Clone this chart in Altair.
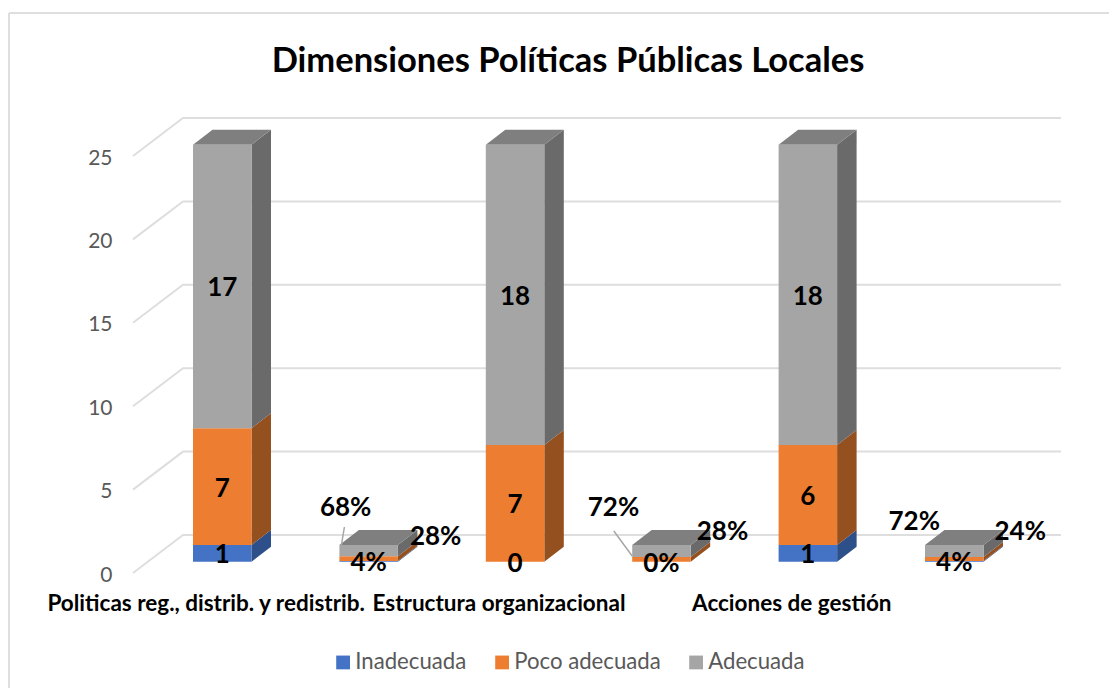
import altair as alt
import pandas as pd

# ---- data ----
TITLE = "Dimensiones Políticas Públicas Locales"
SERIES = ["Inadecuada", "Poco adecuada", "Adecuada"]
COLORS = ["#4472C4", "#ED7D31", "#A5A5A5"]
SIDE_COLORS = ["#2D4F8A", "#95501F", "#6A6A6A"]
TOP_COLOR = "#7F7F7F"
CATEGORIES = ["Politicas reg., distrib. y redistrib.", "Estructura organizacional", "Acciones de gestión"]
COUNTS = [[1, 7, 17], [0, 7, 18], [1, 6, 18]]
PERCENTS = [[4, 28, 68], [0, 28, 72], [4, 24, 72]]
TICKS = [0, 5, 10, 15, 20, 25]

# ---- layout of the oblique projection ----
W, H = 1101, 680
UNIT_PX = 16.68          # pixels per value unit
SLOT_PX = 146.4          # pixels between neighbouring columns
X0_SCREEN, Y0_SCREEN = 193.0, 573.0
x_dom = [(8 - X0_SCREEN) / SLOT_PX, (8 + W - X0_SCREEN) / SLOT_PX]
y_dom = [(Y0_SCREEN - (8 + H)) / UNIT_PX, (Y0_SCREEN - 8) / UNIT_PX]
BAR_W = 58.5 / SLOT_PX
BAR_DX, BAR_DV = 19.5 / SLOT_PX, 15.0 / UNIT_PX
BAR_LIFT = 11.3 / UNIT_PX
WALL_DX, WALL_DV = 50 / SLOT_PX, 38 / UNIT_PX
FLOOR_LEFT = (133 - X0_SCREEN) / SLOT_PX
WALL_RIGHT = (1061 - X0_SCREEN) / SLOT_PX
FONT = "Lato"

xs = alt.Scale(domain=x_dom, nice=False, zero=False)
ys = alt.Scale(domain=y_dom, nice=False, zero=False)
X = alt.X("x:Q", scale=xs, axis=None)
Y = alt.Y("y:Q", scale=ys, stack=None, title=None, axis=alt.Axis(
    values=TICKS, grid=False, domain=False, ticks=False, offset=-104, labelPadding=0, labelOffset=2,
    labelFont=FONT, labelFontSize=21, labelColor="#595959", format="d"))

# ---- build tables from the values ----
grid, front, side, top, labels = [], [], [], [], []
for t in TICKS:
    grid += [
        dict(t=t, o=0, x=FLOOR_LEFT, y=t),
        dict(t=t, o=1, x=FLOOR_LEFT + WALL_DX, y=t + WALL_DV),
        dict(t=t, o=2, x=WALL_RIGHT, y=t + WALL_DV),
    ]

stacks = []
for c in range(3):
    stacks.append((2 * c, [v for v in COUNTS[c]], COUNTS[c], ""))
    stacks.append((2 * c + 1, [p / 100 for p in PERCENTS[c]], PERCENTS[c], "%"))

for slot, heights, shown, suffix in stacks:
    base = BAR_LIFT
    x0, x1 = slot, slot + BAR_W
    for s, h in enumerate(heights):
        t = base + h
        front.append(dict(series=SERIES[s], x=x0, x2=x1, y=base, y2=t))
        gid = f"{slot}-{s}"
        side += [
            dict(g=gid, fill=SIDE_COLORS[s], x=x1, y=base, y2=t),
            dict(g=gid, fill=SIDE_COLORS[s], x=x1 + BAR_DX, y=base + BAR_DV, y2=t + BAR_DV),
        ]
        if suffix == "":
            labels.append(dict(x=(x0 + x1) / 2, y=(base + t) / 2, text=f"{shown[s]}"))
        base = t
    gid = f"{slot}"
    top += [
        dict(g=gid, x=x0, y=base, y2=base),
        dict(g=gid, x=x0 + BAR_DX, y=base, y2=base + BAR_DV),
        dict(g=gid, x=x1, y=base, y2=base + BAR_DV),
        dict(g=gid, x=x1 + BAR_DX, y=base + BAR_DV, y2=base + BAR_DV),
    ]

# percent labels were dragged by hand in the original: (slot, series, dx, dy)
PCT_SHIFT = [(1, 0, 0, 2), (1, 1, 67, -22), (1, 2, -23, -43),
             (3, 0, 0, 2), (3, 1, 61, -27), (3, 2, -48, -43),
             (5, 0, 0, 2), (5, 1, 66, -27), (5, 2, -40, -29)]
pct_layers = []
for slot, s, dx, dy in PCT_SHIFT:
    c = slot // 2
    below = sum(PERCENTS[c][:s]) / 100
    row = dict(x=slot + BAR_W / 2, y=BAR_LIFT + below + PERCENTS[c][s] / 200, text=f"{PERCENTS[c][s]}%")
    pct_layers.append(
        alt.Chart(pd.DataFrame([row])).mark_text(
            font=FONT, fontWeight="bold", fontSize=26, color="black", dx=dx, dy=dy, baseline="middle"
        ).encode(x=X, y=Y, text="text:N")
    )

# leader lines from two percent labels to their bar
LEADERS = [(1, 5 / SLOT_PX, 46 / UNIT_PX, 2 / SLOT_PX, 28 / UNIT_PX),
           (3, -18.4 / SLOT_PX, 42 / UNIT_PX, 0, 17 / UNIT_PX)]
lead = []
for i, (slot, xa, va, xb, vb) in enumerate(LEADERS):
    lead += [dict(g=i, x=slot + xa, y=va), dict(g=i, x=slot + xb, y=vb)]

cat_rows = [dict(x=2 * i + 0.09, y=(Y0_SCREEN - 604) / UNIT_PX, text=CATEGORIES[i]) for i in range(3)]

# ---- layers ----
grid_l = alt.Chart(pd.DataFrame(grid)).mark_line(color="#DEDEDE", strokeWidth=2).encode(
    x=X, y=Y, detail="t:N", order="o:Q")

frame_top = alt.Chart(pd.DataFrame({"a": [0]})).mark_rule(color="#DEDEDE", strokeWidth=2).encode(
    x=alt.value(1), x2=alt.value(W), y=alt.value(5))
frame_left = alt.Chart(pd.DataFrame({"a": [0]})).mark_rule(color="#DEDEDE", strokeWidth=2).encode(
    x=alt.value(1), y=alt.value(5), y2=alt.value(H))

side_l = alt.Chart(pd.DataFrame(side)).mark_area(interpolate="linear").encode(
    x=X, y=Y, y2=alt.Y2("y2:Q"), detail="g:N", fill=alt.Fill("fill:N", scale=None))
top_l = alt.Chart(pd.DataFrame(top)).mark_area(interpolate="linear", color=TOP_COLOR).encode(
    x=X, y=Y, y2=alt.Y2("y2:Q"), detail="g:N")
front_l = alt.Chart(pd.DataFrame(front)).mark_rect().encode(
    x=X, x2="x2:Q", y=Y, y2="y2:Q",
    color=alt.Color("series:N", scale=alt.Scale(domain=SERIES, range=COLORS), sort=SERIES, title=None,
                    legend=alt.Legend(orient="none", direction="horizontal", legendX=324, legendY=643,
                                      symbolType="square", symbolSize=190, symbolStrokeWidth=0,
                                      labelFont=FONT, labelFontSize=22.2, labelColor="#595959",
                                      labelOffset=1, columnPadding=24, symbolOpacity=1)))
lead_l = alt.Chart(pd.DataFrame(lead)).mark_line(color="#A6A6A6", strokeWidth=1.5).encode(x=X, y=Y, detail="g:N")
num_l = alt.Chart(pd.DataFrame(labels)).mark_text(
    font=FONT, fontWeight="bold", fontSize=26, color="black", baseline="middle", dy=2
).encode(x=X, y=Y, text="text:N")
cat_l = alt.Chart(pd.DataFrame(cat_rows)).mark_text(
    font=FONT, fontWeight="bold", fontSize=22.5, color="black", baseline="middle"
).encode(x=X, y=Y, text="text:N")

chart = alt.layer(
    frame_top, frame_left, grid_l, side_l, top_l, front_l, lead_l, num_l, *pct_layers, cat_l
).properties(
    width=W, height=H, padding=0, background="white",
    title=alt.TitleParams(TITLE, font=FONT, fontSize=34.5, fontWeight="bold", color="black",
                          anchor="middle", baseline="middle", dx=9.5, dy=88, offset=0),
    autosize=alt.AutoSizeParams(type="none"),
).configure_view(stroke=None)

chart.save("out.html", embed_options={"renderer": "svg", "actions": False})
